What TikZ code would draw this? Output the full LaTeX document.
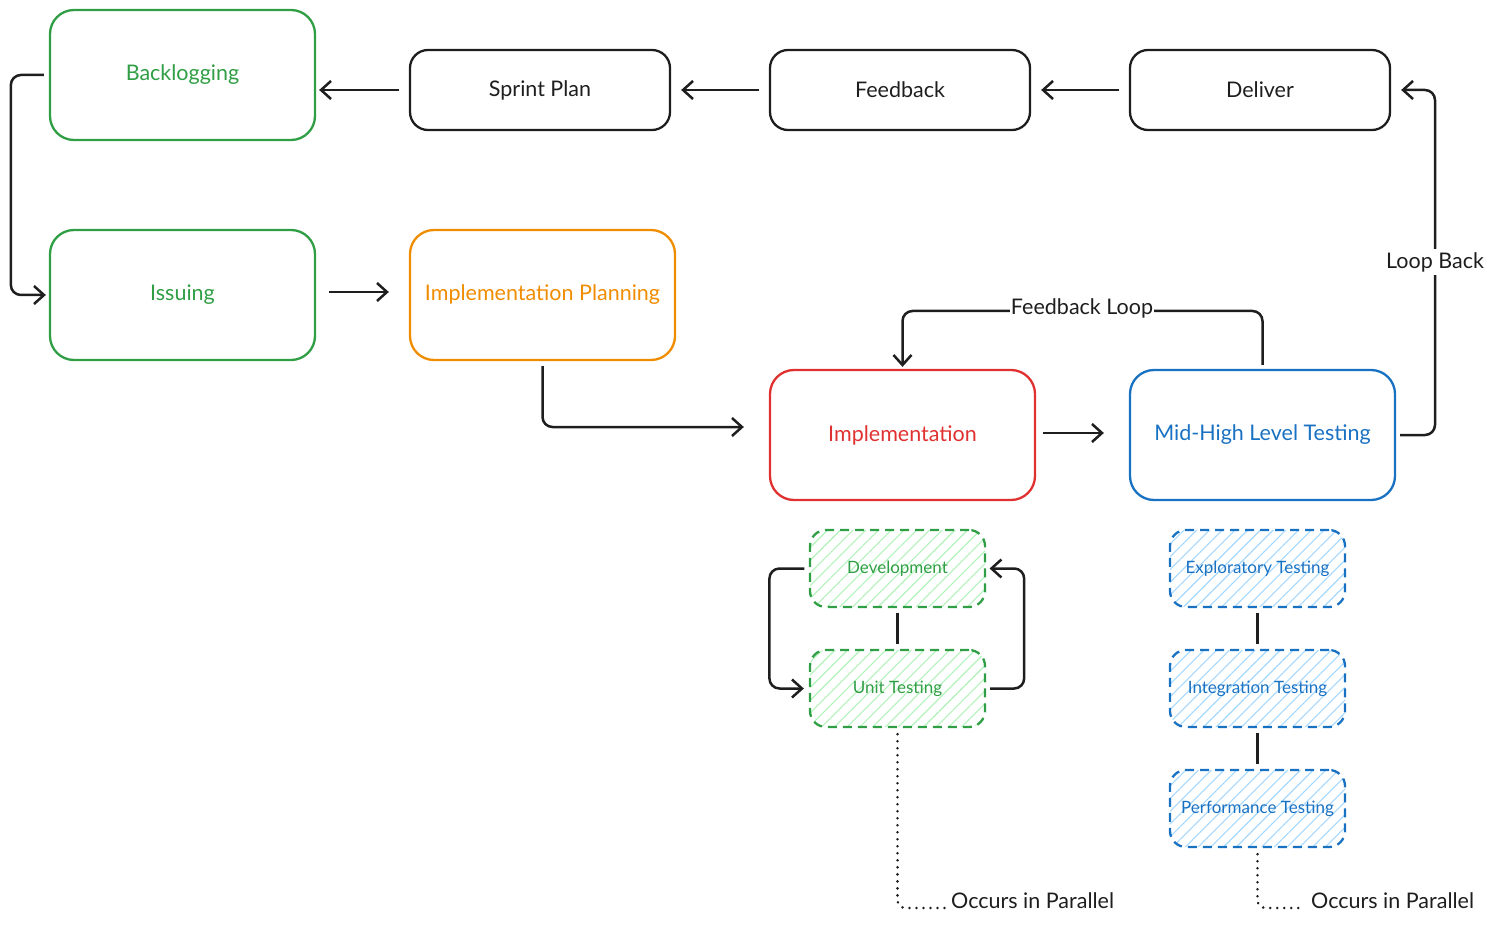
\documentclass[tikz,border=0pt]{standalone}
\usepackage{fontspec}
\setmainfont{Lato}
\usetikzlibrary{arrows.meta,patterns.meta,calc}
\definecolor{ink}{HTML}{1E1E1E}
\definecolor{cgreen}{HTML}{2F9E44}
\definecolor{corange}{HTML}{F08C00}
\definecolor{cred}{HTML}{E03131}
\definecolor{cblue}{HTML}{1971C2}
\definecolor{hgreen}{HTML}{B2F2BB}
\definecolor{hblue}{HTML}{A5D8FF}
\begin{document}
\begin{tikzpicture}[x=1pt,y=-1pt,
  bigbox/.style={draw, line width=2.3pt, rounded corners=24pt, minimum width=265pt, minimum height=130pt, font=\fontsize{21.5}{24}\selectfont, align=center},
  topbox/.style={draw=ink, text=ink, line width=2.3pt, rounded corners=18pt, minimum width=260pt, minimum height=80pt, font=\fontsize{21.5}{24}\selectfont},
  subbox/.style={draw, line width=2.3pt, dash pattern=on 9pt off 6pt, rounded corners=16pt, minimum width=175pt, minimum height=77pt, font=\fontsize{17}{19}\selectfont},
  ghatch/.style={subbox, draw=cgreen, text=cgreen, pattern={Lines[angle=45,distance=9pt,line width=1.1pt]}, pattern color=hgreen},
  bhatch/.style={subbox, draw=cblue, text=cblue, pattern={Lines[angle=45,distance=9pt,line width=1.1pt]}, pattern color=hblue},
  arr/.style={draw=ink, line width=2.5pt, rounded corners=10pt, -{Straight Barb[length=10pt,width=18pt,line width=2.5pt]}},
  plain/.style={draw=ink, line width=2.3pt},
  dotline/.style={draw=ink, line width=2.8pt, dash pattern=on 0.01pt off 7pt, line cap=round, rounded corners=8pt},
  lbl/.style={text=ink, font=\fontsize{21.5}{24}\selectfont, inner sep=1pt}
]
\useasboundingbox (0,0) rectangle (1494,925);

% main boxes
\node[bigbox, draw=cgreen, text=cgreen] (back) at (182.5,75) {Backlogging};
\node[topbox] (sprint) at (540,90) {Sprint Plan};
\node[topbox] (fb) at (900,90) {Feedback};
\node[topbox] (del) at (1260,90) {Deliver};
\node[bigbox, draw=cgreen, text=cgreen] (iss) at (182.5,295) {Issuing};
\node[bigbox, draw=corange, text=corange] (ip) at (542.5,295) {Implementation Planning};
\node[bigbox, draw=cred, text=cred] (impl) at (902.5,435) {Implementation};
\node[bigbox, draw=cblue, text=cblue] (mh) at (1262.5,435) {Mid-High Level Testing};

% sub boxes
\node[ghatch] (dev) at (897.5,568.5) {Development};
\node[ghatch] (unit) at (897.5,688.5) {Unit Testing};
\node[bhatch] (exp) at (1257.5,568.5) {Exploratory Testing};
\node[bhatch] (intg) at (1257.5,688.5) {Integration Testing};
\node[bhatch] (perf) at (1257.5,808.5) {Performance Testing};

% top row arrows
\draw[arr, shorten <=10pt, shorten >=3pt] (sprint.west) -- (sprint.west -| back.east);
\draw[arr, shorten <=10pt, shorten >=10pt] (fb.west) -- (sprint.east);
\draw[arr, shorten <=10pt, shorten >=10pt] (del.west) -- (fb.east);

% backlogging -> issuing
\draw[arr, shorten <=5pt, shorten >=3pt] (back.west) -- ++(-38,0) |- (iss.west);

% issuing -> implementation planning
\draw[arr, shorten <=13pt, shorten >=20pt] ([yshift=3pt]iss.east) -- ([yshift=3pt]ip.west);

% implementation planning -> implementation
\draw[arr, shorten <=5pt, shorten >=25pt] (ip.south) |- ([yshift=8pt]impl.west);

% implementation -> mid-high
\draw[arr, shorten <=7pt, shorten >=25pt] ([yshift=2pt]impl.east) -- ([yshift=2pt]mh.west);

% feedback loop
\coordinate (flc) at (1082,311);
\draw[arr, shorten <=4pt, shorten >=2pt] (mh.north) |- (flc) -| (impl.north);
\node[lbl, fill=white] (fll) at (1082,308) {Feedback Loop};

% loop back
\coordinate (lbc) at (1435,262);
\draw[arr, shorten <=4pt, shorten >=10pt] (mh.east) -| (lbc) |- (del.east);
\node[lbl, fill=white, inner ysep=3pt] (lbl1) at (lbc) {Loop Back};

% development <-> unit testing
\draw[arr, shorten <=5pt, shorten >=5pt] (dev.west) -- ++(-40,0) |- (unit.west);
\draw[arr, shorten <=4pt, shorten >=4pt] (unit.east) -- ++(38,0) |- (dev.east);
\draw[plain] ([yshift=-5pt]dev.south) -- ([yshift=5pt]unit.north);

% testing chain
\draw[plain] ([yshift=-5pt]exp.south) -- ([yshift=5pt]intg.north);
\draw[plain] ([yshift=-5pt]intg.south) -- ([yshift=5pt]perf.north);

% occurs in parallel
\coordinate (o1) at (945,908);
\coordinate (o2) at (1305,908);
\draw[dotline] ([yshift=-6pt]unit.south) |- (o1);
\draw[dotline] ([yshift=-6pt]perf.south) |- (o2);
\node[lbl, anchor=west] (occ1) at (950,901) {Occurs in Parallel};
\node[lbl, anchor=west] (occ2) at (1310,901) {Occurs in Parallel};
\end{tikzpicture}
\end{document}
